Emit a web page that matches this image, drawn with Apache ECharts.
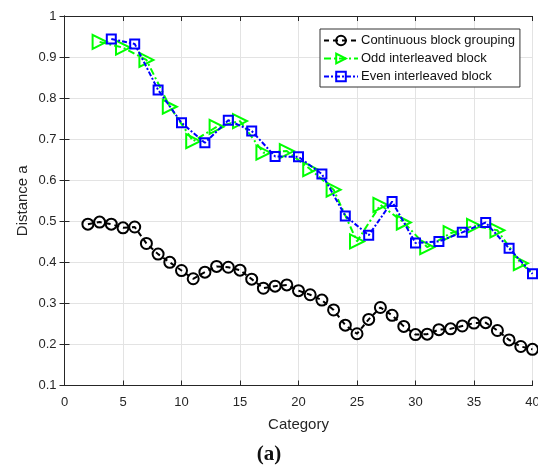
<!DOCTYPE html>
<html>
<head>
<meta charset="utf-8">
<script src="https://cdn.jsdelivr.net/npm/echarts@6/dist/echarts.min.js"></script>
<style>
  html, body { margin: 0; padding: 0; background: #fff; }
  #chart { width: 538px; height: 473px; }
</style>
</head>
<body>
<div id="chart"></div>
<script>
// series names
const seriesNames = ['Continuous block grouping', 'Odd interleaved block', 'Even interleaved block'];

// continuous block grouping: categories 2..40
const contX = [2, 3, 4, 5, 6, 7, 8, 9, 10, 11, 12, 13, 14, 15, 16, 17, 18, 19, 20, 21,
    22, 23, 24, 25, 26, 27, 28, 29, 30, 31, 32, 33, 34, 35, 36, 37, 38, 39, 40];
const contY = [0.493, 0.498, 0.493, 0.484, 0.486, 0.446, 0.420, 0.400, 0.380, 0.360,
    0.376, 0.390, 0.388, 0.381, 0.359, 0.337, 0.342, 0.345, 0.331, 0.321,
    0.308, 0.284, 0.247, 0.226, 0.261, 0.290, 0.271, 0.244, 0.224, 0.225,
    0.236, 0.238, 0.245, 0.252, 0.253, 0.234, 0.211, 0.195, 0.188];

// odd interleaved block: odd categories (line runs on to 40)
const oddX = [3, 5, 7, 9, 11, 13, 15, 17, 19, 21, 23, 25, 27, 29, 31, 33, 35, 37, 39, 40];
const oddY = [0.937, 0.923, 0.893, 0.779, 0.695, 0.730, 0.744, 0.667, 0.671, 0.627,
    0.577, 0.451, 0.540, 0.497, 0.437, 0.471, 0.489, 0.478, 0.398, 0.372];

// even interleaved block: even categories
const evenX = [4, 6, 8, 10, 12, 14, 16, 18, 20, 22, 24, 26, 28, 30, 32, 34, 36, 38, 40];
const evenY = [0.944, 0.932, 0.820, 0.740, 0.691, 0.746, 0.720, 0.658, 0.657, 0.615,
    0.513, 0.466, 0.548, 0.447, 0.451, 0.473, 0.497, 0.434, 0.372];

const chart = echarts.init(document.getElementById('chart'));

const fonte = 'Liberation Sans, Arial, sans-serif';
const corTexto = '#262626';
const corEixo = '#262626';

function pares(xs, ys) {
    return xs.map((x, i) => [x, ys[i]]);
}

const triDireita = 'path://M0,0 L10,5 L0,10 Z';

const eixoBase = {
    axisLine: { show: true, lineStyle: { color: corEixo, width: 1 } },
    axisTick: { show: true, inside: true, length: 5, lineStyle: { color: corEixo } },
};

chart.setOption({
    animation: false,
    backgroundColor: '#fff',
    grid: { left: 64.5, right: 5.5, top: 16, bottom: 87.5, outerBoundsMode: 'none', containLabel: false },
    title: {
        text: '(a)',
        left: 'center',
        top: 439,
        textStyle: { fontFamily: 'Liberation Serif, serif', fontWeight: 'bold', fontSize: 21, color: '#111' }
    },
    legend: {
        orient: 'vertical',
        left: 320,
        top: 29,
        padding: [5, 5, 4, 3],
        itemWidth: 34,
        itemHeight: 12,
        itemGap: 5,
        backgroundColor: '#fff',
        borderColor: '#333',
        borderWidth: 1,
        borderRadius: 0,
        textStyle: { fontFamily: fonte, fontSize: 13, color: '#111', padding: [0, 0, 0, -2] },
        data: seriesNames
    },
    xAxis: [
        Object.assign({}, eixoBase, {
            type: 'value', min: 0, max: 40, interval: 5,
            name: 'Category', nameLocation: 'middle', nameGap: 32, nameMoveOverlap: false,
            nameTextStyle: { fontFamily: fonte, fontSize: 15, color: corTexto },
            axisLabel: { fontFamily: fonte, fontSize: 13, color: corTexto, margin: 10 },
            splitLine: { show: true, lineStyle: { color: '#e3e3e3', width: 1 } }
        }),
        Object.assign({}, eixoBase, {
            type: 'value', position: 'top', min: 0, max: 40, interval: 5,
            axisLabel: { show: false }, splitLine: { show: false }
        })
    ],
    yAxis: [
        Object.assign({}, eixoBase, {
            type: 'value', min: 0.1, max: 1, interval: 0.1,
            name: 'Distance a', nameLocation: 'middle', nameGap: 34, nameMoveOverlap: false,
            nameTextStyle: { fontFamily: fonte, fontSize: 15, color: corTexto },
            axisLabel: {
                fontFamily: fonte, fontSize: 13, color: corTexto, margin: 8,
                formatter: v => String(+v.toFixed(1))
            },
            splitLine: { show: true, lineStyle: { color: '#e3e3e3', width: 1 } }
        }),
        Object.assign({}, eixoBase, {
            type: 'value', position: 'right', min: 0.1, max: 1, interval: 0.1,
            axisLabel: { show: false }, splitLine: { show: false }
        })
    ],
    series: [
        {
            name: seriesNames[0],
            type: 'line',
            data: pares(contX, contY),
            symbol: 'circle',
            symbolSize: 11,
            itemStyle: { color: 'rgba(0,0,0,0)', borderColor: '#000', borderWidth: 2 },
            lineStyle: { color: '#000', width: 2, type: [5, 4] },
            z: 2
        },
        {
            name: seriesNames[1],
            type: 'line',
            data: pares(oddX, oddY).map((p, i) =>
                i === oddX.length - 1 ? { value: p, symbol: 'none' } : p),
            symbol: triDireita,
            symbolSize: [14, 14],
            itemStyle: { color: 'rgba(0,0,0,0)', borderColor: '#00ff00', borderWidth: 2 },
            lineStyle: { color: '#00ff00', width: 2, type: [7, 3, 2, 3] },
            z: 3
        },
        {
            name: seriesNames[2],
            type: 'line',
            data: pares(evenX, evenY),
            symbol: 'rect',
            symbolSize: 9,
            itemStyle: { color: 'rgba(0,0,0,0)', borderColor: '#0000ff', borderWidth: 2 },
            lineStyle: { color: '#0000ff', width: 2, type: [5, 2, 2, 2] },
            z: 4
        }
    ]
});
</script>
</body>
</html>
